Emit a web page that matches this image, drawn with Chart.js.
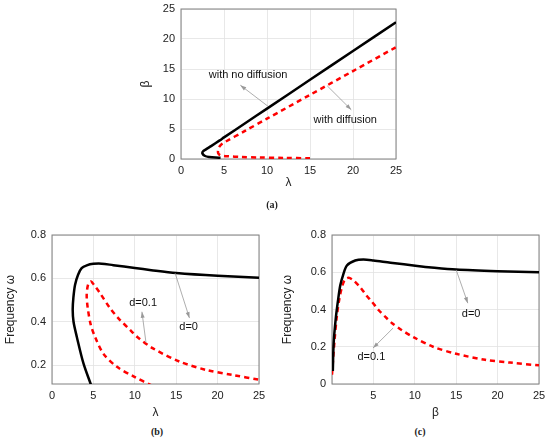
<!DOCTYPE html>
<html>
<head>
<meta charset="utf-8">
<script src="https://cdn.jsdelivr.net/npm/chart.js@4.4.0/dist/chart.umd.min.js"></script>
<style>
  body { margin: 0; background: #fff; width: 550px; height: 439px; position: relative; overflow: hidden; }
  canvas { position: absolute; display: block; }
  .cap { position: absolute; font: bold 10px "Liberation Serif", serif; color: #222; transform: translate(-50%, -50%); }
</style>
</head>
<body>
<canvas id="chartA" width="280" height="200" style="left:130px;top:0px"></canvas>
<canvas id="chartB" width="275" height="205" style="left:0px;top:220px"></canvas>
<canvas id="chartC" width="270" height="205" style="left:280px;top:220px"></canvas>
<div class="cap" style="left:272px;top:204px">(a)</div>
<div class="cap" style="left:157px;top:431px">(b)</div>
<div class="cap" style="left:420px;top:431px">(c)</div>
<script>
// tick values
const TICKS_0_25 = [0, 5, 10, 15, 20, 25];
const TICKS_FREQ_B = [0.2, 0.4, 0.6, 0.8];
const TICKS_FREQ_C = [0, 0.2, 0.4, 0.6, 0.8];

// (a) beta vs lambda
const aBlackX = [4.6, 4.0, 3.3, 2.8, 2.5, 2.55, 2.9, 3.5, 4.5, 5, 7.5, 10, 15, 20, 25];
const aBlackY = [0.2, 0.23, 0.33, 0.5, 0.9, 1.25, 1.6, 2.15, 3.1, 3.6, 6.0, 8.4, 13.2, 18.0, 22.8];
const aRedX = [15, 12, 9, 7, 5.5, 4.6, 4.35, 4.3, 4.4, 4.7, 5, 7.5, 10, 15, 20, 25];
const aRedY = [0.12, 0.18, 0.26, 0.34, 0.45, 0.62, 0.9, 1.3, 1.9, 2.45, 2.75, 4.73, 6.72, 10.69, 14.66, 18.63];

// (b) frequency vs lambda
const bBlackX = [4.75, 3.8, 3.0, 2.6, 2.5, 2.58, 2.78, 3.15, 3.58, 4.2, 5.0, 6.0, 7.4, 10, 12, 15, 20, 25];
const bBlackY = [0.105, 0.208, 0.33, 0.4, 0.455, 0.51, 0.57, 0.617, 0.647, 0.66, 0.667, 0.668, 0.661, 0.648, 0.638, 0.625, 0.612, 0.603];
const bRedX = [12.1, 9.9, 7.85, 6.2, 5.2, 4.67, 4.31, 4.19, 4.38, 4.7, 5.07, 5.8, 7.0, 8.0, 9.6, 10.3, 12.2, 15.5, 18.7, 21.9, 25];
const bRedY = [0.105, 0.147, 0.192, 0.253, 0.33, 0.388, 0.465, 0.524, 0.574, 0.586, 0.57, 0.532, 0.463, 0.417, 0.356, 0.33, 0.277, 0.215, 0.177, 0.154, 0.133];

// (c) frequency vs beta
const cBlackX = [0.1, 0.2, 0.45, 0.73, 1.0, 1.34, 1.8, 2.8, 3.8, 5.0, 7.07, 10.3, 12, 15, 20, 25];
const cBlackY = [0.07, 0.22, 0.35, 0.45, 0.53, 0.585, 0.636, 0.663, 0.668, 0.663, 0.651, 0.634, 0.626, 0.615, 0.606, 0.6];
const cRedX = [0, 0.3, 0.6, 0.9, 1.2, 1.55, 2.0, 2.6, 3.4, 4.15, 4.85, 5.65, 6.45, 7.3, 8.3, 9.9, 12.2, 15, 18.5, 21.5, 25];
const cRedY = [0.05, 0.23, 0.37, 0.46, 0.52, 0.56, 0.57, 0.556, 0.52, 0.476, 0.44, 0.396, 0.36, 0.325, 0.293, 0.25, 0.2, 0.162, 0.13, 0.115, 0.1];

const FONT = '"Liberation Sans", Arial, sans-serif';

function pts(xs, ys) {
  return xs.map((x, i) => ({ x: x, y: ys[i] }));
}

function solid(xs, ys) {
  return { data: pts(xs, ys), showLine: true, borderColor: '#000', borderWidth: 2.5,
           pointRadius: 0, tension: 0.3, fill: false };
}

function dashed(xs, ys) {
  return { data: pts(xs, ys), showLine: true, borderColor: '#ff0000', borderWidth: 2.5,
           borderDash: [5, 4], pointRadius: 0, tension: 0.3, fill: false };
}

// box around the plot area
const framePlugin = {
  id: 'frame',
  beforeDatasetsDraw(chart) {
    const { ctx, chartArea: a } = chart;
    ctx.save();
    ctx.strokeStyle = '#808080';
    ctx.lineWidth = 1;
    ctx.strokeRect(a.left, a.top, a.right - a.left, a.bottom - a.top);
    ctx.restore();
  }
};

// text labels and thin arrows
const notesPlugin = {
  id: 'notes',
  afterDatasetsDraw(chart, args, opts) {
    const { ctx, scales: { x, y } } = chart;
    ctx.save();
    ctx.strokeStyle = '#999';
    ctx.fillStyle = '#999';
    ctx.lineWidth = 0.8;
    (opts.arrows || []).forEach(a => {
      const x1 = x.getPixelForValue(a.from[0]), y1 = y.getPixelForValue(a.from[1]);
      const x2 = x.getPixelForValue(a.to[0]), y2 = y.getPixelForValue(a.to[1]);
      const ang = Math.atan2(y2 - y1, x2 - x1);
      ctx.beginPath();
      ctx.moveTo(x1, y1);
      ctx.lineTo(x2, y2);
      ctx.stroke();
      ctx.beginPath();
      ctx.moveTo(x2, y2);
      ctx.lineTo(x2 - 6 * Math.cos(ang) + 2 * Math.sin(ang), y2 - 6 * Math.sin(ang) - 2 * Math.cos(ang));
      ctx.lineTo(x2 - 6 * Math.cos(ang) - 2 * Math.sin(ang), y2 - 6 * Math.sin(ang) + 2 * Math.cos(ang));
      ctx.closePath();
      ctx.fill();
    });
    ctx.fillStyle = '#111';
    ctx.font = '11px ' + FONT;
    ctx.textAlign = 'center';
    ctx.textBaseline = 'middle';
    (opts.labels || []).forEach(l => {
      ctx.fillText(l.text, x.getPixelForValue(l.x), y.getPixelForValue(l.y));
    });
    ctx.restore();
  }
};

function makeChart(id, c) {
  return new Chart(document.getElementById(id), {
    type: 'scatter',
    data: { datasets: c.datasets },
    plugins: [framePlugin, notesPlugin],
    options: {
      responsive: false,
      animation: false,
      layout: { padding: { top: c.padTop, right: c.padRight, left: 0, bottom: 0 } },
      plugins: {
        legend: { display: false },
        tooltip: { enabled: false },
        notes: { arrows: c.arrows, labels: c.labels }
      },
      scales: {
        x: {
          type: 'linear', min: 0, max: 25,
          afterBuildTicks: s => { s.ticks = c.xTicks.map(v => ({ value: v })); },
          afterFit: s => { s.height = c.xH; s.paddingLeft = 0; s.paddingRight = 0; },
          grid: { color: '#e2e2e2', lineWidth: 0.8, drawTicks: false },
          border: { display: false },
          ticks: { padding: 5, color: '#222', font: { family: FONT, size: 11 },
                   maxRotation: 0, autoSkip: false,
                   callback: v => (c.hideX0 && v === 0) ? '' : String(v) },
          title: { display: true, text: c.xTitle, color: '#222',
                   font: { family: FONT, size: 12 }, padding: { top: 0, bottom: c.xTitlePad } }
        },
        y: {
          type: 'linear', min: c.yMin, max: c.yMax,
          afterBuildTicks: s => { s.ticks = c.yTicks.map(v => ({ value: v })); },
          afterFit: s => { s.width = c.yW; s.paddingTop = 0; s.paddingBottom = 0; },
          grid: { color: '#e2e2e2', lineWidth: 0.8, drawTicks: false },
          border: { display: false },
          ticks: { padding: 6, color: '#222', font: { family: FONT, size: 11 },
                   autoSkip: false, callback: v => String(v) },
          title: { display: true, text: c.yTitle, color: '#222',
                   font: { family: FONT, size: 12 }, padding: { top: c.yTitlePad, bottom: 0 } }
        }
      }
    }
  });
}

makeChart('chartA', {
  datasets: [solid(aBlackX, aBlackY), dashed(aRedX, aRedY)],
  xTitle: 'λ', yTitle: 'β',
  yMin: 0, yMax: 25, xTicks: TICKS_0_25, yTicks: TICKS_0_25,
  padTop: 9, padRight: 14, yW: 51, xH: 41, xTitlePad: 10, yTitlePad: 8,
  labels: [{ text: 'with no diffusion', x: 7.8, y: 14 }, { text: 'with diffusion', x: 19.1, y: 6.5 }],
  arrows: [{ from: [10.1, 8.8], to: [6.9, 12.3] }, { from: [17.0, 12.2], to: [19.8, 8.2] }]
});

makeChart('chartB', {
  datasets: [solid(bBlackX, bBlackY), dashed(bRedX, bRedY)],
  xTitle: 'λ', yTitle: 'Frequency ω',
  yMin: 0.113, yMax: 0.8, xTicks: TICKS_0_25, yTicks: TICKS_FREQ_B,
  padTop: 15, padRight: 16, yW: 52, xH: 41, xTitlePad: 5, yTitlePad: 3,
  labels: [{ text: 'd=0.1', x: 11.0, y: 0.488 }, { text: 'd=0', x: 16.5, y: 0.376 }],
  arrows: [{ from: [11.35, 0.304], to: [10.86, 0.446] }, { from: [14.87, 0.624], to: [16.6, 0.417] }]
});

makeChart('chartC', {
  datasets: [solid(cBlackX, cBlackY), dashed(cRedX, cRedY)],
  xTitle: 'β', yTitle: 'Frequency ω',
  yMin: 0, yMax: 0.8, xTicks: TICKS_0_25, yTicks: TICKS_FREQ_C, hideX0: true,
  padTop: 15, padRight: 11, yW: 52, xH: 41, xTitlePad: 5, yTitlePad: 0,
  labels: [{ text: 'd=0', x: 16.8, y: 0.377 }, { text: 'd=0.1', x: 4.75, y: 0.143 }],
  arrows: [{ from: [15.0, 0.6125], to: [16.4, 0.434] }, { from: [7.37, 0.3], to: [4.95, 0.193] }]
});
</script>
</body>
</html>
